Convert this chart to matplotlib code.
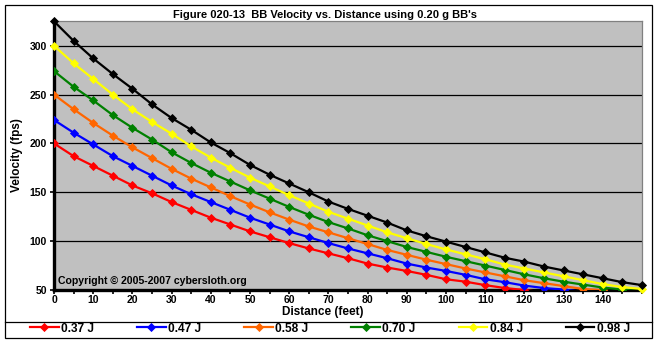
import matplotlib
matplotlib.use("Agg")
import matplotlib.pyplot as plt
from matplotlib.patches import Rectangle
from matplotlib.lines import Line2D

plt.rcParams['font.family'] = ['Liberation Sans', 'DejaVu Sans']
plt.rcParams['font.weight'] = 'bold'

W, H = 657, 343

# distance in feet, one point every 5 ft
distance = [0, 5, 10, 15, 20, 25, 30, 35, 40, 45, 50, 55, 60, 65, 70, 75,
            80, 85, 90, 95, 100, 105, 110, 115, 120, 125, 130, 135, 140, 145, 150]

v_037 = [200, 187, 177, 167, 157, 149, 140, 132, 124, 117, 110, 104, 98, 92.5, 87.5, 82.5,
         77, 73, 69.5, 65.5, 61, 58.5, 55, 52, 50, 47.5]
v_047 = [224, 211, 199, 187, 177, 167, 157, 148, 140, 132, 124, 117, 110, 104, 98, 92.5,
         87.5, 82.5, 77, 73, 69.5, 65.5, 61, 58, 54.5, 52, 50.5, 48]
v_058 = [250, 235, 221, 208, 196, 185, 174, 164, 155, 146, 137.5, 129.5, 122, 115, 109, 103,
         97, 91, 86, 81, 76.5, 72, 68, 64, 60, 57, 54, 51, 49.8, 47]
v_070 = [274, 258, 244, 229, 216, 204, 191, 180, 170, 161, 152, 143.5, 135, 127, 119.5, 113,
         106, 100, 94, 89, 84, 79.5, 75, 70.5, 66, 62, 58.5, 55.5, 52.5, 50.5, 48.5]
v_084 = [300, 282, 266, 250, 235, 222, 210, 197, 185.5, 175, 165, 156, 147, 138.5, 130, 123,
         116, 109, 103, 97, 91.5, 86.5, 81.5, 76, 72, 68, 64, 60, 56, 53, 51]
v_098 = [325, 305, 287, 271, 256, 240, 226, 214, 201, 190, 178, 168, 159, 150, 140.5, 133,
         126, 119, 111, 105, 99.5, 94, 88.5, 83, 79, 74, 70, 66, 62, 58, 55]

series = [v_037, v_047, v_058, v_070, v_084, v_098]
labels = ['0.37 J', '0.47 J', '0.58 J', '0.70 J', '0.84 J', '0.98 J']
colors = ['#FF0000', '#0000FF', '#FF6600', '#008000', '#FFFF00', '#000000']

x_ticks = distance
x_labels = [str(d) if d % 10 == 0 and d < 150 else '' for d in distance]
y_ticks = [50, 100, 150, 200, 250, 300]

fig = plt.figure(figsize=(W / 100, H / 100), dpi=100)
fig.patch.set_facecolor('white')

# outer chart border and legend separator
fig.patches.append(Rectangle((5 / W, 1 - 338 / H), 647 / W, 333 / H, transform=fig.transFigure,
                             fill=False, edgecolor='black', linewidth=0.9))
fig.lines.append(Line2D([5 / W, 652 / W], [1 - 322 / H, 1 - 322 / H], transform=fig.transFigure,
                        color='black', linewidth=0.9))

ax = fig.add_axes([54 / W, 1 - 290 / H, 588 / W, 268.7 / H])
ax.set_facecolor('#C0C0C0')
ax.set_xlim(0, 150)
ax.set_ylim(50, 325)

for y in y_ticks[1:]:
    ax.axhline(y, color='black', linewidth=0.9, zorder=1)

handles = []
for vals, lab, col in zip(series, labels, colors):
    ln, = ax.plot(distance[:len(vals)], vals, color=col, linewidth=1.6, marker='D',
                  markersize=3.6, markeredgewidth=0.6, markeredgecolor=col, label=lab,
                  zorder=3, clip_on=min(vals) < 50)
    handles.append(ln)

for s in ['top', 'right']:
    ax.spines[s].set_color('#808080')
    ax.spines[s].set_linewidth(0.9)
for s in ['left', 'bottom']:
    ax.spines[s].set_color('black')
    ax.spines[s].set_linewidth(2.4)
    ax.spines[s].set_zorder(2)

ax.set_xticks(x_ticks)
ax.set_xticklabels(x_labels)
ax.set_yticks(y_ticks)
ax.tick_params(direction='out', length=3, width=1.2, color='black', labelsize=7.5, pad=2)
ax.tick_params(axis='x', pad=0.8)

fig.text(325 / W, 1 - 15.5 / H, "Figure 020-13  BB Velocity vs. Distance using 0.20 g BB's",
         ha='center', va='center', fontsize=8.0, fontweight='bold')
fig.text(323 / W, 1 - 312 / H, 'Distance (feet)', ha='center', va='center',
         fontsize=8.5, fontweight='bold')
fig.text(17 / W, 1 - 155 / H, 'Velocity (fps)', ha='center', va='center', rotation=90,
         fontsize=8.5, fontweight='bold')
ax.text(4 / 588, 6.5 / 268.7, 'Copyright \u00a9 2005-2007 cybersloth.org', transform=ax.transAxes,
        fontsize=7.6, fontweight='bold')

fig.legend(handles=handles, labels=labels, ncol=6, loc='center',
           bbox_to_anchor=(30 / W, 1 - 336 / H, 600 / W, 15 / H), mode='expand',
           frameon=False, fontsize=8.6, handlelength=2.4, handletextpad=0.2,
           borderaxespad=0, borderpad=0, columnspacing=1.0)

fig.savefig('out.png', dpi=100)
